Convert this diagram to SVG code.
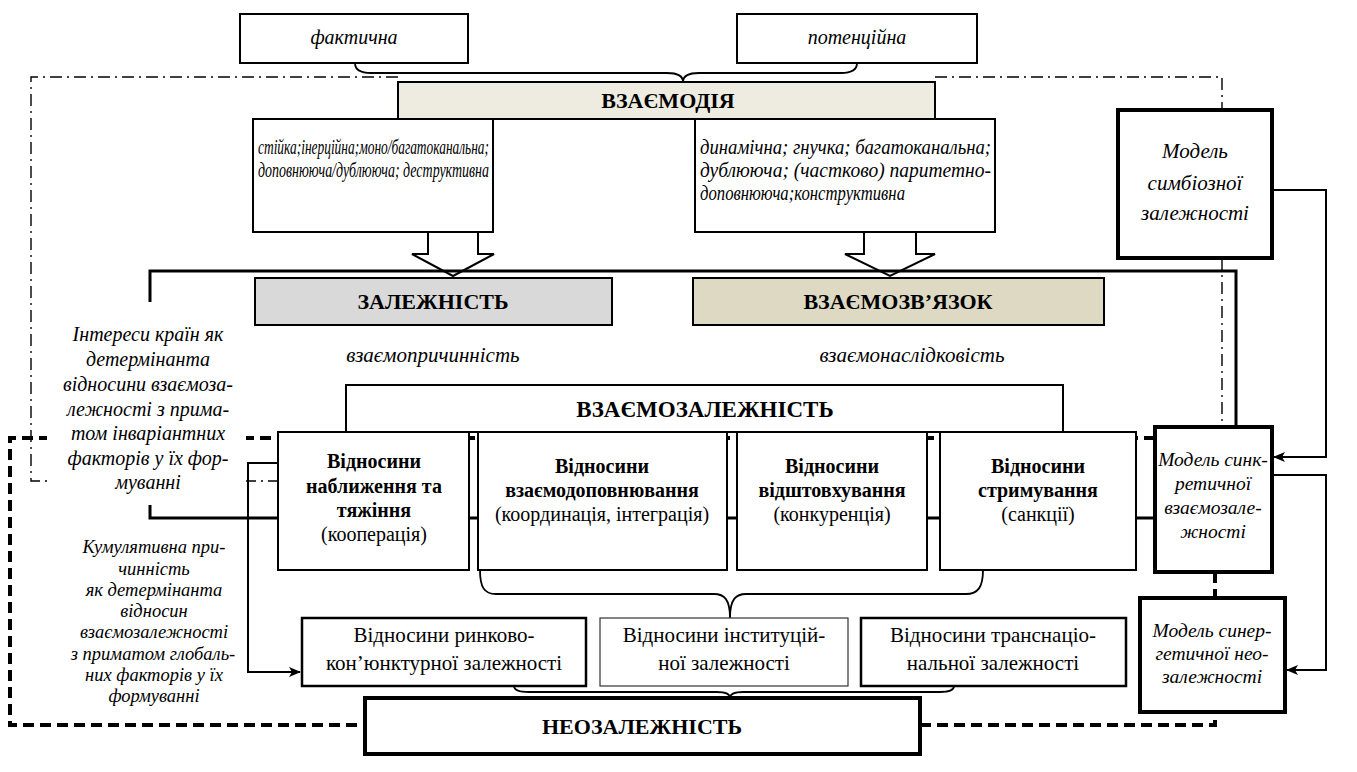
<svg xmlns="http://www.w3.org/2000/svg" width="1357" height="772" viewBox="0 0 1357 772" font-family="'Liberation Serif', 'Times New Roman', serif">
<defs>
<marker id="ah" viewBox="0 0 12 10" refX="11" refY="5" markerWidth="12" markerHeight="10" markerUnits="userSpaceOnUse" orient="auto">
<path d="M0,0 L12,5 L0,10 L3,5 Z" fill="#000"/>
</marker>
<style>
.box{fill:#fff;stroke:#000;stroke-width:2}
.thick{fill:#fff;stroke:#000;stroke-width:4}
.t{font-family:'Liberation Serif','Times New Roman',serif;fill:#000}
.it{font-style:italic}
.b{font-weight:bold}
.c{text-anchor:middle}
.ln{fill:none;stroke:#000;stroke-width:2}
.dd{fill:none;stroke:#000;stroke-width:1.4;stroke-dasharray:12 5 2 5}
.dash{fill:none;stroke:#000;stroke-width:4;stroke-dasharray:11 6}
.br{fill:none;stroke:#000;stroke-width:3}
.brace{fill:none;stroke:#000;stroke-width:1.8}
.blk{fill:#fff;stroke:#000;stroke-width:2}
</style>
</defs>
<rect width="1357" height="772" fill="#fff"/>

<g id="connectors">
  <path class="dd" d="M398,77 H31 V481 H278"/>
  <path class="dd" d="M935,77 H1222 V110"/>
  <path class="dd" d="M1222,258 V427"/>
  <path class="brace" d="M355,63 C355,70 361,73 371,73 L667,73 C677,73 683,76 683,82 C683,76 689,73 699,73 L841,73 C851,73 857,70 857,63"/>
  <polygon class="blk" points="428,232 428,254 412,254 453,276 494,254 478,254 478,232"/>
  <polygon class="blk" points="864,232 864,254 845,254 890,276 935,254 916,254 916,232"/>
  <path class="br" d="M150,302 V271 H1236 V427"/>
  <path class="br" d="M150,505 V518 H1155"/>
  <path class="dash" d="M1155,438 H10 V725 H365"/>
  <path class="dash" d="M920,725 H1215 V712"/>
  <path class="dash" d="M1215,572 V598"/>
  <path class="ln" d="M1272,190 H1326 V457 H1274" marker-end="url(#ah)"/>
  <path class="ln" d="M1272,475 H1326 V670 H1287" marker-end="url(#ah)"/>
  <path class="ln" d="M278,463 H248 V672 H300" marker-end="url(#ah)"/>
  <path class="brace" d="M480,570 C480,587 484,594 496,594 L714,594 C724,594 730,599 730,618 C730,599 736,594 746,594 L966,594 C978,594 983,587 983,570"/>
  <path class="brace" d="M514,686 C514,690 519,692 529,692 L717,692 C725,692 730,694 730,698 C730,694 735,692 743,692 L940,692 C949,692 954,690 954,686"/>
</g>

<g id="n-faktychna">
  <rect class="box" x="240" y="14" width="228" height="49"/>
  <text class="t it c" x="354" y="44" font-size="20">фактична</text>
</g>
<g id="n-potentsiina">
  <rect class="box" x="737" y="14" width="240" height="49"/>
  <text class="t it c" x="857" y="44" font-size="20">потенційна</text>
</g>
<g id="n-vzaiemodiia">
  <rect x="398" y="82" width="537" height="37" fill="#eeece1" stroke="#000" stroke-width="2"/>
  <text class="t b c" x="668" y="108" font-size="22">ВЗАЄМОДІЯ</text>
</g>
<g id="n-stiika">
  <rect class="box" x="253" y="119" width="240" height="113"/>
  <text class="t it" x="258" y="154" font-size="21" textLength="231" lengthAdjust="spacingAndGlyphs">стійка;інерційна;моно/багатоканальна;</text>
  <text class="t it" x="258" y="177" font-size="21" textLength="231" lengthAdjust="spacingAndGlyphs">доповнююча/дублююча; деструктивна</text>
</g>
<g id="n-dynamichna">
  <rect class="box" x="695" y="119" width="300" height="113"/>
  <text class="t it" x="700" y="154" font-size="21" textLength="291" lengthAdjust="spacingAndGlyphs">динамічна; гнучка; багатоканальна;</text>
  <text class="t it" x="700" y="177" font-size="21" textLength="291" lengthAdjust="spacingAndGlyphs">дублююча; (частково) паритетно-</text>
  <text class="t it" x="700" y="200" font-size="21" textLength="205" lengthAdjust="spacingAndGlyphs">доповнююча;конструктивна</text>
</g>
<g id="n-symbioz">
  <rect class="thick" x="1118" y="110" width="154" height="148"/>
  <text class="t it c" x="1195" y="158" font-size="21">Модель</text>
  <text class="t it c" x="1195" y="190" font-size="21">симбіозної</text>
  <text class="t it c" x="1195" y="220" font-size="21">залежності</text>
</g>
<g id="n-zalezhnist">
  <rect x="255" y="278" width="357" height="47" fill="#d9d9d9" stroke="#000" stroke-width="2"/>
  <text class="t b c" x="433" y="309" font-size="22">ЗАЛЕЖНІСТЬ</text>
</g>
<g id="n-vzaiemozviazok">
  <rect x="693" y="278" width="411" height="47" fill="#ddd9c3" stroke="#000" stroke-width="2"/>
  <text class="t b c" x="898" y="309" font-size="22">ВЗАЄМОЗВ’ЯЗОК</text>
</g>
<g id="n-labels">
  <text class="t it c" x="433" y="362" font-size="21">взаємопричинність</text>
  <text class="t it c" x="912" y="362" font-size="21">взаємонаслідковість</text>
</g>
<g id="n-vzaiemozalezhnist">
  <rect class="box" x="346" y="385" width="717" height="47"/>
  <text class="t b c" x="705" y="417" font-size="23">ВЗАЄМОЗАЛЕЖНІСТЬ</text>
</g>
<g id="n-nablyzhennia">
  <rect class="box" x="278" y="432" width="191" height="138"/>
  <text class="t b c" x="374" y="468" font-size="20">Відносини</text>
  <text class="t b c" x="374" y="493" font-size="20">наближення та</text>
  <text class="t b c" x="374" y="517" font-size="20">тяжіння</text>
  <text class="t c" x="374" y="541" font-size="20">(кооперація)</text>
</g>
<g id="n-dopovniuvannia">
  <rect class="box" x="478" y="432" width="249" height="138"/>
  <text class="t b c" x="602" y="473" font-size="20">Відносини</text>
  <text class="t b c" x="602" y="497" font-size="20">взаємодоповнювання</text>
  <text class="t c" x="602" y="521" font-size="20">(координація, інтеграція)</text>
</g>
<g id="n-vidshtovkhuvannia">
  <rect class="box" x="737" y="432" width="190" height="138"/>
  <text class="t b c" x="832" y="473" font-size="20">Відносини</text>
  <text class="t b c" x="832" y="497" font-size="20">відштовхування</text>
  <text class="t c" x="832" y="521" font-size="20">(конкуренція)</text>
</g>
<g id="n-strymuvannia">
  <rect class="box" x="940" y="432" width="196" height="138"/>
  <text class="t b c" x="1038" y="473" font-size="20">Відносини</text>
  <text class="t b c" x="1038" y="497" font-size="20">стримування</text>
  <text class="t c" x="1038" y="521" font-size="20">(санкції)</text>
</g>
<g id="n-synkretychna">
  <rect class="thick" x="1155" y="427" width="117" height="145"/>
  <text class="t it c" x="1213" y="466" font-size="19.5">Модель синк-</text>
  <text class="t it c" x="1213" y="490" font-size="19.5">ретичної</text>
  <text class="t it c" x="1213" y="514" font-size="19.5">взаємозале-</text>
  <text class="t it c" x="1213" y="538" font-size="19.5">жності</text>
</g>
<g id="n-synerhetychna">
  <rect class="thick" x="1140" y="598" width="145" height="114"/>
  <text class="t it c" x="1212" y="637" font-size="19.5">Модель синер-</text>
  <text class="t it c" x="1212" y="660" font-size="19.5">гетичної нео-</text>
  <text class="t it c" x="1212" y="683" font-size="19.5">залежності</text>
</g>
<g id="n-interesy">
  <rect x="47" y="322" width="199" height="174" fill="#fff"/>
  <text class="t it c" x="148" y="341" font-size="20">Інтереси країн як</text>
  <text class="t it c" x="148" y="366" font-size="20">детермінанта</text>
  <text class="t it c" x="148" y="391" font-size="20">відносини взаємоза-</text>
  <text class="t it c" x="148" y="416" font-size="20">лежності з прима-</text>
  <text class="t it c" x="148" y="440" font-size="20">том інваріантних</text>
  <text class="t it c" x="148" y="465" font-size="20">факторів  у їх фор-</text>
  <text class="t it c" x="148" y="489" font-size="20">муванні</text>
</g>
<g id="n-kumuliatyvna">
  <text class="t it c" x="154" y="553" font-size="18.5">Кумулятивна при-</text>
  <text class="t it c" x="154" y="575" font-size="18.5">чинність</text>
  <text class="t it c" x="154" y="596" font-size="18.5">як детермінанта</text>
  <text class="t it c" x="154" y="617" font-size="18.5">відносин</text>
  <text class="t it c" x="154" y="638" font-size="18.5">взаємозалежності</text>
  <text class="t it c" x="153" y="660" font-size="18.5">з приматом глобаль-</text>
  <text class="t it c" x="154" y="681" font-size="18.5">них факторів у їх</text>
  <text class="t it c" x="154" y="702" font-size="18.5">формуванні</text>
</g>
<g id="n-rynkovo">
  <rect x="302" y="618" width="284" height="68" fill="#fff" stroke="#000" stroke-width="2.5"/>
  <text class="t c" x="444" y="642" font-size="21">Відносини ринково-</text>
  <text class="t c" x="444" y="670" font-size="21">кон’юнктурної залежності</text>
</g>
<g id="n-instytutsiina">
  <rect x="600" y="618" width="248" height="68" fill="#fff" stroke="#333" stroke-width="1.2"/>
  <text class="t c" x="724" y="642" font-size="21">Відносини інституцій-</text>
  <text class="t c" x="724" y="670" font-size="21">ної залежності</text>
</g>
<g id="n-transnats">
  <rect x="861" y="618" width="265" height="68" fill="#fff" stroke="#000" stroke-width="2.5"/>
  <text class="t c" x="993" y="642" font-size="21">Відносини транснаціо-</text>
  <text class="t c" x="993" y="670" font-size="21">нальної залежності</text>
</g>
<g id="n-neozalezhnist">
  <rect class="thick" x="365" y="698" width="555" height="56"/>
  <text class="t b c" x="642" y="734" font-size="22">НЕОЗАЛЕЖНІСТЬ</text>
</g>
</svg>
